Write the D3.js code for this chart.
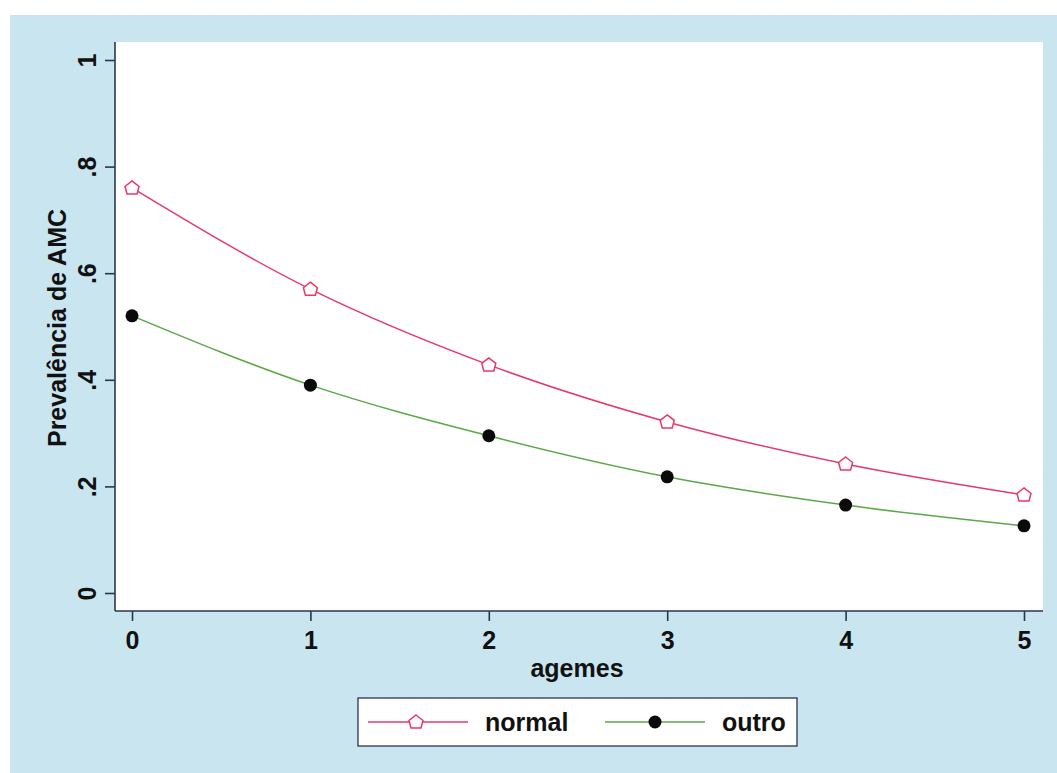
<!DOCTYPE html>
<html>
<head>
<meta charset="utf-8">
<script src="https://cdn.jsdelivr.net/npm/d3@7"></script>
<style>
  html, body { margin: 0; padding: 0; background: #ffffff; }
  svg { display: block; }
  text { font-family: "Liberation Sans", Arial, sans-serif; fill: #111; font-weight: bold; }
</style>
</head>
<body>
<svg id="chart" width="1057" height="773"></svg>
<script>
// Age in months (x) and predicted prevalence of AMC for each group
const ages = [0, 1, 2, 3, 4, 5];
const normalValues = [0.760, 0.570, 0.428, 0.321, 0.242, 0.184];
const outroValues  = [0.520, 0.390, 0.295, 0.218, 0.165, 0.126];
const yTicks = [0, 0.2, 0.4, 0.6, 0.8, 1];
const yTickLabels = ["0", ".2", ".4", ".6", ".8", "1"];
const seriesNames = ["normal", "outro"];

const W = 1057, H = 773;
const FONT = 25;
const svg = d3.select("#chart");

// speckled light-blue backdrop
const defs = svg.append("defs");
const f = defs.append("filter").attr("id", "grain").attr("x", 0).attr("y", 0).attr("width", 1).attr("height", 1);
f.append("feTurbulence").attr("type", "fractalNoise").attr("baseFrequency", 0.8).attr("numOctaves", 2).attr("seed", 4).attr("result", "n");
f.append("feColorMatrix").attr("in", "n").attr("type", "matrix")
  .attr("values", "0 0 0 0 0.62  0 0 0 0 0.78  0 0 0 0 0.88  0 0 0 0.45 -0.05").attr("result", "c");
f.append("feComposite").attr("in", "c").attr("in2", "SourceGraphic").attr("operator", "in");

svg.append("rect").attr("x", 10).attr("y", 15).attr("width", W - 10).attr("height", H - 15).attr("fill", "#c8e5ef");
svg.append("rect").attr("x", 10).attr("y", 15).attr("width", W - 10).attr("height", H - 15).attr("fill", "#c8e5ef").attr("filter", "url(#grain)");

// plot region
const plot = { left: 115, top: 42, right: 1043, bottom: 611 };
svg.append("rect")
  .attr("x", plot.left).attr("y", plot.top)
  .attr("width", plot.right - plot.left).attr("height", plot.bottom - plot.top)
  .attr("fill", "#ffffff");

const x = d3.scaleLinear().domain([0, 5]).range([132, 1024]);
const y = d3.scaleLinear().domain([0, 1]).range([593, 60]);

const axisColor = "#2a3550";

// y axis
const yAxis = d3.axisLeft(y).tickValues(yTicks).tickFormat((d, i) => yTickLabels[i]).tickSize(10);
const gy = svg.append("g").attr("transform", `translate(${plot.left},0)`).call(yAxis);
gy.attr("font-size", null).attr("font-family", null);
gy.select(".domain").attr("stroke", axisColor).attr("stroke-width", 1.6).attr("d", `M0,${plot.top}V${plot.bottom}`);
gy.selectAll(".tick line").attr("stroke", axisColor).attr("stroke-width", 1.6);
gy.selectAll(".tick text")
  .attr("font-size", FONT)
  .attr("x", null).attr("dy", "0.36em")
  .attr("text-anchor", "middle")
  .attr("transform", "translate(-28,0) rotate(-90)");

// x axis
const xAxis = d3.axisBottom(x).tickValues(ages).tickFormat(d3.format("d")).tickSize(10).tickPadding(10);
const gx = svg.append("g").attr("transform", `translate(0,${plot.bottom})`).call(xAxis);
gx.attr("font-size", null).attr("font-family", null);
gx.select(".domain").attr("stroke", axisColor).attr("stroke-width", 1.6).attr("d", `M${plot.left},0H${plot.right}`);
gx.selectAll(".tick line").attr("stroke", axisColor).attr("stroke-width", 1.6);
gx.selectAll(".tick text").attr("font-size", FONT);

// axis titles
svg.append("text").attr("x", 577).attr("y", 677).attr("text-anchor", "middle")
  .attr("font-size", FONT).text("agemes");
svg.append("text").attr("transform", `translate(66,328) rotate(-90)`)
  .attr("text-anchor", "middle").attr("font-size", FONT).text("Prevalência de AMC");

// series
const line = d3.line().x(d => x(d[0])).y(d => y(d[1])).curve(d3.curveMonotoneX);
const normalPts = ages.map((a, i) => [a, normalValues[i]]);
const outroPts = ages.map((a, i) => [a, outroValues[i]]);

const pinkColor = "#e8386a", greenColor = "#5aa846";
// hollow house-shaped marker for "normal"
const housePath = "M0,-7L7,-1.5L5,6L-5,6L-7,-1.5Z";

svg.append("path").attr("d", line(normalPts)).attr("fill", "none").attr("stroke", pinkColor).attr("stroke-width", 1.5);
svg.append("path").attr("d", line(outroPts)).attr("fill", "none").attr("stroke", greenColor).attr("stroke-width", 1.5);

svg.selectAll(".mk-normal").data(normalPts).join("path").attr("class", "mk-normal")
  .attr("transform", d => `translate(${x(d[0])},${y(d[1])})`)
  .attr("d", housePath).attr("fill", "#fff").attr("stroke", pinkColor).attr("stroke-width", 1.5);
svg.selectAll(".mk-outro").data(outroPts).join("circle").attr("class", "mk-outro")
  .attr("cx", d => x(d[0])).attr("cy", d => y(d[1])).attr("r", 6.5).attr("fill", "#0a0a0a");

// legend
const lg = svg.append("g");
lg.append("rect").attr("x", 358).attr("y", 698).attr("width", 439).attr("height", 48)
  .attr("fill", "#fff").attr("stroke", axisColor).attr("stroke-width", 1.3);
const legendItems = [
  { name: seriesNames[0], color: pinkColor, x0: 368 },
  { name: seriesNames[1], color: greenColor, x0: 605 }
];
legendItems.forEach((it, i) => {
  const cy = 722;
  lg.append("line").attr("x1", it.x0).attr("x2", it.x0 + 100).attr("y1", cy).attr("y2", cy)
    .attr("stroke", it.color).attr("stroke-width", 1.5);
  if (i === 0) {
    lg.append("path").attr("transform", `translate(${it.x0 + 48},${cy})`).attr("d", housePath)
      .attr("fill", "#fff").attr("stroke", it.color).attr("stroke-width", 1.5);
  } else {
    lg.append("circle").attr("cx", it.x0 + 50).attr("cy", cy).attr("r", 6.5).attr("fill", "#0a0a0a");
  }
  lg.append("text").attr("x", it.x0 + 117).attr("y", 731)
    .attr("font-size", FONT).text(it.name);
});
</script>
</body>
</html>
